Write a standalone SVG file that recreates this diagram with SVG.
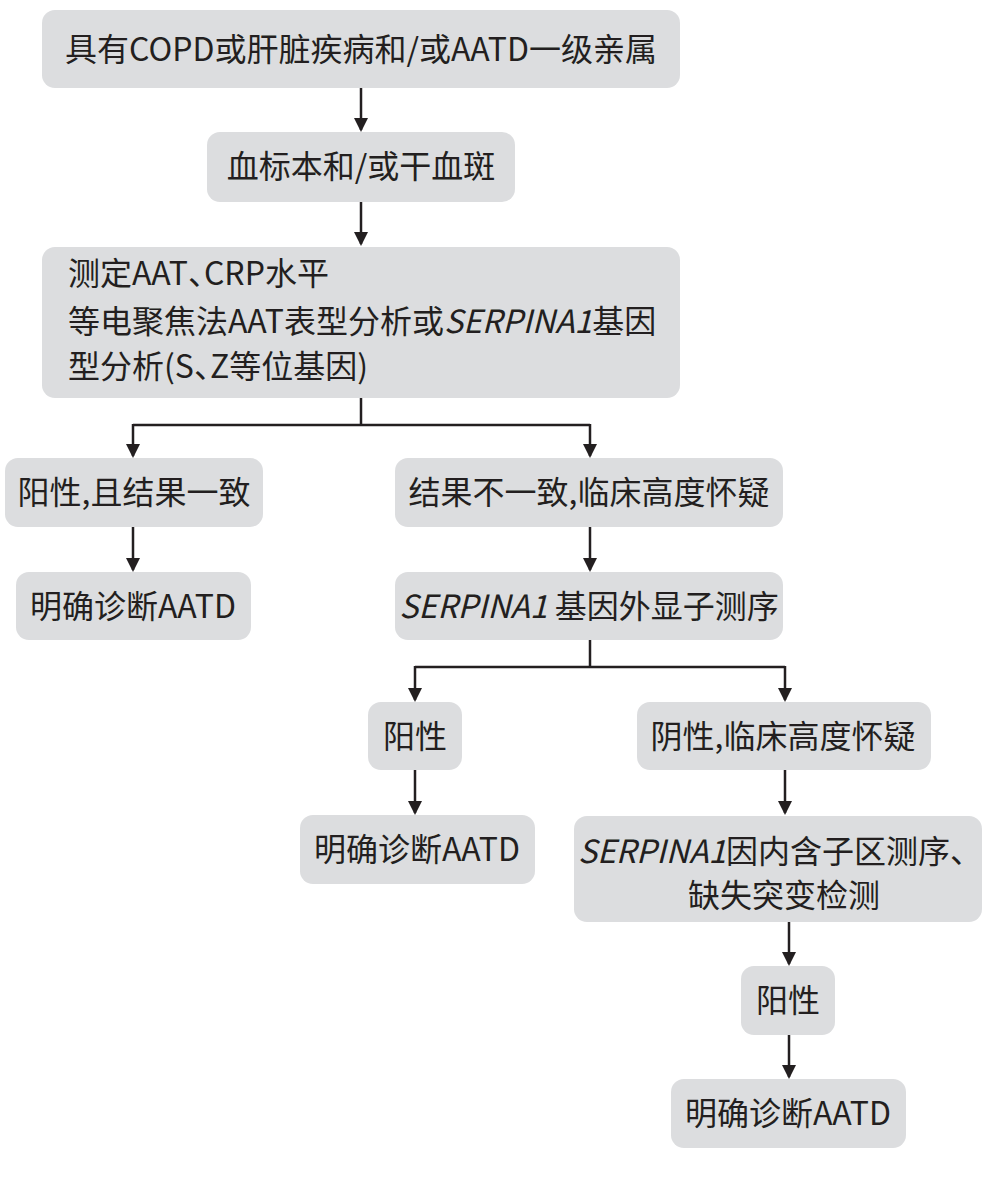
<svg xmlns="http://www.w3.org/2000/svg" width="991" height="1182" viewBox="0 0 991 1182">
<style>
.box{fill:#dcdddf}
.t{font-family:"Noto Sans CJK SC","Noto Sans",sans-serif;font-size:32px;fill:#231f20}
.c{text-anchor:middle}
.i{font-style:italic}
.h{font-feature-settings:"halt"}
.ln{fill:none;stroke:#231f20;stroke-width:2.5}
</style>
<defs>
<marker id="a" markerWidth="14" markerHeight="14" refX="12" refY="7" orient="auto" markerUnits="userSpaceOnUse" viewBox="0 0 14 14">
<path d="M0,0 L14,7 L0,14 Z" fill="#231f20"/>
</marker>
</defs>
<rect width="991" height="1182" fill="#fff"/>
<g id="connectors">
<path class="ln" d="M361,88 V130" marker-end="url(#a)"/>
<path class="ln" d="M361,202 V244" marker-end="url(#a)"/>
<path class="ln" d="M361,398 V425"/>
<path class="ln" d="M133,425 H590"/>
<path class="ln" d="M133,424 V456" marker-end="url(#a)"/>
<path class="ln" d="M590,424 V456" marker-end="url(#a)"/>
<path class="ln" d="M133,527 V570" marker-end="url(#a)"/>
<path class="ln" d="M590,527 V570" marker-end="url(#a)"/>
<path class="ln" d="M590,640 V667"/>
<path class="ln" d="M415,667 H785"/>
<path class="ln" d="M415,666 V700" marker-end="url(#a)"/>
<path class="ln" d="M785,666 V700" marker-end="url(#a)"/>
<path class="ln" d="M415,770 V813" marker-end="url(#a)"/>
<path class="ln" d="M785,770 V813" marker-end="url(#a)"/>
<path class="ln" d="M789,921 V964" marker-end="url(#a)"/>
<path class="ln" d="M789,1035 V1077" marker-end="url(#a)"/>
</g>
<g id="n1"><rect class="box" x="42" y="10" width="638" height="78" rx="13"/><text class="t c" x="361" y="61">具有COPD或肝脏疾病和/或AATD一级亲属</text></g>
<g id="n2"><rect class="box" x="207" y="132" width="308" height="70" rx="13"/><text class="t c" x="361" y="178">血标本和/或干血斑</text></g>
<g id="n3"><rect class="box" x="42" y="247" width="638" height="151" rx="13"/>
<text class="t h" x="68" y="285">测定AAT、CRP水平</text>
<text class="t" x="68" y="333">等电聚焦法AAT表型分析或<tspan class="i">SERPINA1</tspan>基因</text>
<text class="t h" x="68" y="378">型分析(S、Z等位基因)</text></g>
<g id="n4"><rect class="box" x="5" y="458" width="258" height="69" rx="13"/><text class="t c" x="134" y="504">阳性,且结果一致</text></g>
<g id="n5"><rect class="box" x="395" y="458" width="388" height="69" rx="13"/><text class="t c" x="589" y="504">结果不一致,临床高度怀疑</text></g>
<g id="n6"><rect class="box" x="16" y="572" width="235" height="68" rx="13"/><text class="t c" x="133" y="618">明确诊断AATD</text></g>
<g id="n7"><rect class="box" x="395" y="572" width="388" height="68" rx="13"/><text class="t c" x="589" y="618"><tspan class="i">SERPINA1</tspan> 基因外显子测序</text></g>
<g id="n8"><rect class="box" x="368" y="702" width="94" height="68" rx="13"/><text class="t c" x="415" y="748">阳性</text></g>
<g id="n9"><rect class="box" x="637" y="702" width="294" height="68" rx="13"/><text class="t c" x="783" y="748">阴性,临床高度怀疑</text></g>
<g id="n10"><rect class="box" x="300" y="815" width="235" height="69" rx="13"/><text class="t c" x="417" y="861">明确诊断AATD</text></g>
<g id="n11"><rect class="box" x="574" y="816" width="408" height="106" rx="13"/>
<text class="t c" x="780" y="863"><tspan class="i">SERPINA1</tspan>因内含子区测序、</text>
<text class="t c" x="784" y="907">缺失突变检测</text></g>
<g id="n12"><rect class="box" x="741" y="966" width="94" height="69" rx="13"/><text class="t c" x="788" y="1012">阳性</text></g>
<g id="n13"><rect class="box" x="671" y="1079" width="235" height="69" rx="13"/><text class="t c" x="788" y="1125">明确诊断AATD</text></g>
</svg>
